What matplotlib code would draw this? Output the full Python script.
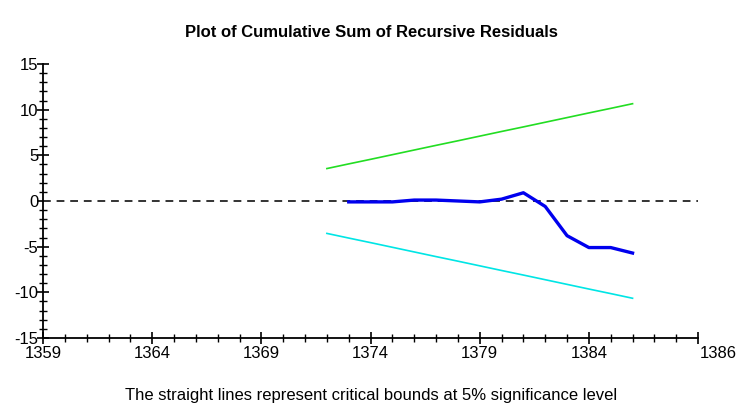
import matplotlib
matplotlib.use("Agg")
import matplotlib.pyplot as plt
from matplotlib.ticker import MultipleLocator

plt.rcParams['font.family'] = ['Liberation Sans', 'DejaVu Sans']

years = [1372, 1373, 1374, 1375, 1376, 1377, 1378, 1379, 1380, 1381, 1382, 1383, 1384, 1385, 1386]
cusum = [None, -0.1, -0.1, -0.1, 0.1, 0.1, 0.0, -0.1, 0.2, 0.9, -0.6, -3.8, -5.1, -5.1, -5.7]
upper = [3.55, 4.06, 4.56, 5.07, 5.58, 6.09, 6.59, 7.10, 7.61, 8.11, 8.62, 9.13, 9.64, 10.14, 10.65]
lower = [-u for u in upper]
xticks = [1359, 1364, 1369, 1374, 1379, 1384]
yticks = [-15, -10, -5, 0, 5, 10, 15]

fig = plt.figure(figsize=(7.43, 4.08), dpi=100)
ax = fig.add_axes([0.058, 0.1716, 0.8815, 0.6716])

ax.plot(years, upper, color='#22dd22', lw=1.2)
ax.plot(years, lower, color='#00e5e5', lw=1.2)
ax.axhline(0, color='#333333', lw=1.4, ls=(0, (4, 3)))
cy = [y for y, c in zip(years, cusum) if c is not None]
cv = [c for c in cusum if c is not None]
ax.plot(cy, cv, color='#0000ee', lw=2.4)

ax.set_xlim(1359, 1389)
ax.set_ylim(-15, 15)
ax.set_xticks(xticks + [1389])
ax.set_xticklabels([str(t) for t in xticks] + [''])
ax.set_yticks(yticks)
ax.set_yticklabels([str(t) for t in yticks])
ax.xaxis.set_minor_locator(MultipleLocator(1))
ax.yaxis.set_minor_locator(MultipleLocator(1))
ax.tick_params(which='major', direction='inout', length=9, width=1.2, labelsize=12, pad=1)
ax.tick_params(which='minor', direction='inout', length=6, width=1.0)
ax.tick_params(axis='y', pad=-1)
for s in ['top', 'right']:
    ax.spines[s].set_visible(False)
for s in ['left', 'bottom']:
    ax.spines[s].set_linewidth(1.3)

ax.text(1389.1, -15.9, '1386', fontsize=12, ha='left', va='top')
fig.text(0.5, 0.91, 'Plot of Cumulative Sum of Recursive Residuals', ha='center',
         fontsize=12, fontweight='bold')
fig.text(0.5, 0.02, 'The straight lines represent critical bounds at 5% significance level',
         ha='center', fontsize=12)

fig.savefig('out.png', dpi=100)
